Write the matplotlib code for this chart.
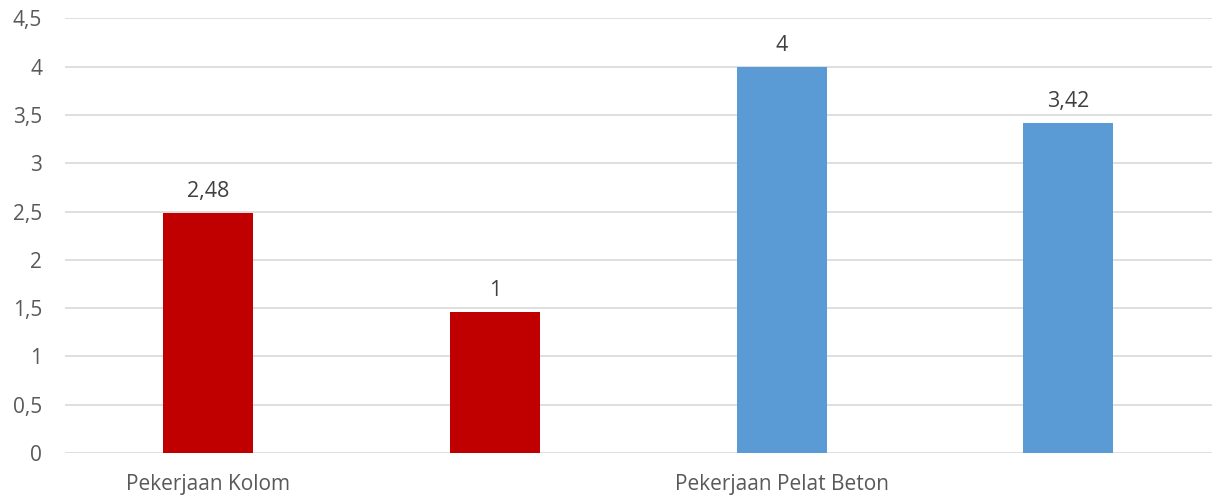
import matplotlib.pyplot as plt

plt.rcParams['font.family'] = ['Open Sans', 'DejaVu Sans']

# data
values = [2.48, 1.46, 4.0, 3.42]
value_labels = ["2,48", "1", "4", "3,42"]
colors = ["#C00000", "#C00000", "#5B9BD5", "#5B9BD5"]
cat_pos = [0, 2]
cat_labels = ["Pekerjaan Kolom", "Pekerjaan Pelat Beton"]
y_ticks = [0, 0.5, 1, 1.5, 2, 2.5, 3, 3.5, 4, 4.5]
y_tick_labels = ["0", "0,5", "1", "1,5", "2", "2,5", "3", "3,5", "4", "4,5"]

fig = plt.figure(figsize=(12.16, 4.99), dpi=100)
ax = fig.add_axes([0.0535, 0.0922, 0.943, 0.871])

x = list(range(len(values)))
ax.bar(x, values, width=0.314, color=colors, zorder=3)
for xi, v, lab in zip(x, values, value_labels):
    ax.annotate(lab, (xi, v), xytext=(0, 8), textcoords='offset points',
                ha='center', va='bottom', fontsize=15.5, color='#404040')

ax.set_xlim(-0.5, 3.5)
ax.set_ylim(0, 4.5)
ax.set_yticks(y_ticks)
ax.set_yticklabels(y_tick_labels)
ax.set_xticks(cat_pos)
ax.set_xticklabels(cat_labels)
ax.tick_params(axis='both', length=0, labelsize=15, labelcolor='#595959')
ax.tick_params(axis='y', pad=16.5)
ax.tick_params(axis='x', pad=15)
ax.grid(axis='y', color='#D9D9D9', linewidth=1.2, zorder=0)
for s in ax.spines.values():
    s.set_visible(False)

fig.savefig('out.png', dpi=100)
